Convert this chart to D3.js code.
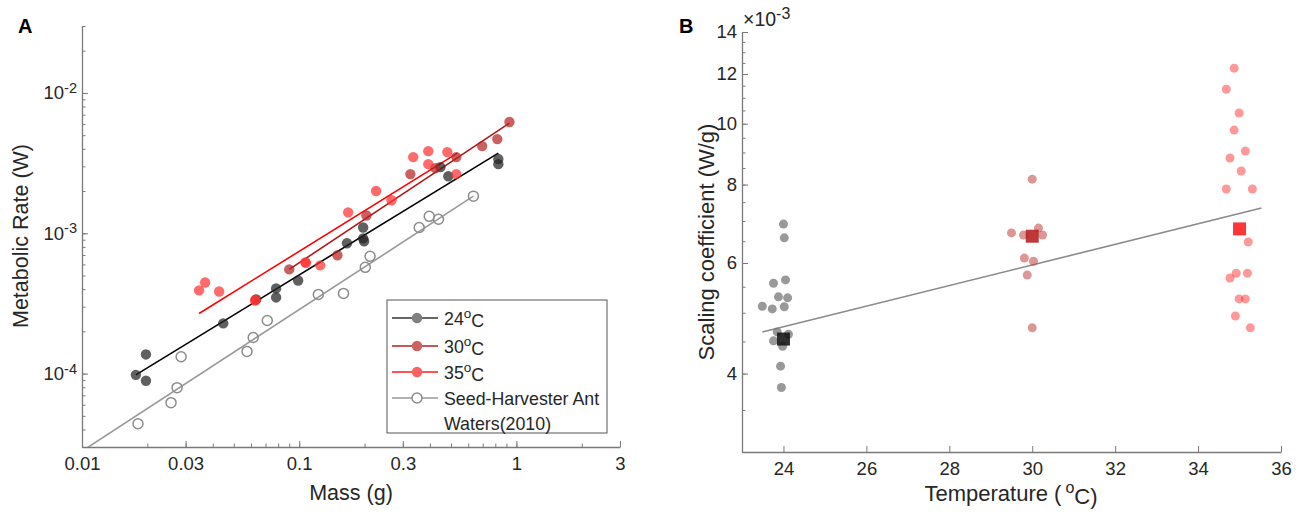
<!DOCTYPE html>
<html><head><meta charset="utf-8">
<script src="https://cdn.jsdelivr.net/npm/d3@7/dist/d3.min.js"></script>
<style>
body{margin:0;background:#fff;}
svg{font-family:"Liberation Sans",Arial,sans-serif;}
</style></head>
<body><svg id="c" width="1298" height="512"></svg>
<script>
// ---------- Panel A data ----------
const massTicks = [0.01, 0.03, 0.1, 0.3, 1, 3];
const rateTicks = [1e-4, 1e-3, 1e-2];
const rateTickExp = ["-4", "-3", "-2"];

const mass24 = [0.0177,0.0197,0.0197,0.0447,0.0634,0.0783,0.0783,0.0989,0.166,0.197,0.197,0.199,0.447,0.486,0.826,0.826];
const rate24 = [9.8e-5,1.37e-4,8.9e-5,2.28e-4,3.38e-4,4.05e-4,3.49e-4,4.61e-4,8.49e-4,1.10e-3,9.2e-4,8.77e-4,2.96e-3,2.55e-3,3.38e-3,3.11e-3];
const fit24Mass = [0.0177, 0.826], fit24Rate = [9.8e-5, 3.73e-3];

const mass30 = [0.090,0.150,0.204,0.325,0.424,0.529,0.696,0.817,0.929];
const rate30 = [5.53e-4,6.97e-4,1.34e-3,2.64e-3,2.91e-3,3.49e-3,4.18e-3,4.69e-3,6.21e-3];
const fit30Mass = [0.090, 0.929], fit30Rate = [5.53e-4, 6.1e-3];

const mass35 = [0.0346,0.0369,0.0428,0.0626,0.0630,0.1067,0.1075,0.125,0.168,0.226,0.266,0.335,0.393,0.393,0.481,0.529];
const rate35 = [3.92e-4,4.46e-4,3.85e-4,3.32e-4,3.36e-4,6.21e-4,6.15e-4,5.91e-4,1.41e-3,2.0e-3,1.72e-3,3.49e-3,3.85e-3,3.11e-3,3.79e-3,2.64e-3];
const fit35Mass = [0.0346, 0.535], fit35Rate = [2.68e-4, 3.73e-3];

const massW = [0.0181,0.0257,0.0274,0.0286,0.0575,0.0614,0.0713,0.1225,0.160,0.2015,0.212,0.357,0.397,0.438,0.634];
const rateW = [4.39e-5,6.21e-5,7.94e-5,1.32e-4,1.44e-4,1.81e-4,2.39e-4,3.67e-4,3.73e-4,5.72e-4,6.85e-4,1.10e-3,1.32e-3,1.26e-3,1.84e-3];
const fitWMass = [0.01055, 0.634], fitWRate = [2.96e-5, 1.84e-3];

const legendLabels = [["24","o","C"],["30","o","C"],["35","o","C"],["Seed-Harvester Ant"],["Waters(2010)"]];

// ---------- Panel B data (coefficients in units of 1e-3 W/g) ----------
const tempTicks = [24, 26, 28, 30, 32, 34, 36];
const coefTicks = [4, 6, 8, 10, 12, 14];
const temp24 = [24.0,24.02,23.76,24.05,23.88,24.1,23.49,23.73,24.02,23.85,24.12,23.76,23.98,23.93,23.95];
const coef24 = [6.92,6.58,5.57,5.64,5.30,5.28,5.12,5.07,5.11,4.66,4.62,4.51,4.42,4.11,3.80];
const temp30 = [30.0,29.5,29.79,30.15,30.25,29.81,30.03,29.88,30.0];
const coef30 = [8.16,6.70,6.65,6.82,6.65,6.11,6.04,5.74,4.73];
const temp35 = [34.87,34.68,34.99,34.87,35.14,34.77,35.04,34.68,35.31,35.21,34.92,35.19,34.77,34.99,35.14,34.90,35.26];
const coef35 = [12.26,11.35,10.40,9.77,9.05,8.82,8.41,7.87,7.87,6.48,5.78,5.78,5.68,5.26,5.26,4.94,4.73];
const meanTemp = [24, 30, 35];
const meanCoef = [4.54, 6.62, 6.80];
const fitTemp = [23.49, 35.53], fitCoef = [4.66, 7.34];

// ---------- drawing ----------
const svg = d3.select("#c");
const axisCol = "#7a7a7a", textCol = "#262626";
const zip = (a, b) => a.map((v, i) => [v, b[i]]);

function styleAxis(g) {
  g.select(".domain").attr("stroke", axisCol).attr("stroke-width", 1.3);
  g.selectAll(".tick line").attr("stroke", axisCol).attr("stroke-width", 1);
  g.selectAll(".tick text").attr("fill", textCol).style("font-size", "18.5px");
}

// ===== Panel A =====
const xA = d3.scaleLog().domain([0.01, 3]).range([82, 620]);
const yA = d3.scaleLog().domain([3e-5, 3e-2]).range([447, 26]);

const minorX = [];
[0.01, 0.1, 1].forEach(d => { for (let k = 1; k <= 9; k++) { const v = d * k; if (v <= 3.0001) minorX.push(v); } });
const minorY = [];
[1e-5, 1e-4, 1e-3, 1e-2].forEach(d => { for (let k = 1; k <= 9; k++) { const v = d * k; if (v >= 2.9999e-5 && v <= 3.0001e-2) minorY.push(v); } });

const gA = svg.append("g");
gA.append("g").attr("transform", "translate(0,447)")
  .call(d3.axisBottom(xA).tickValues(minorX).tickSizeInner(-3.5).tickSizeOuter(0).tickFormat(""))
  .call(styleAxis);
gA.append("g").attr("transform", "translate(0,447)")
  .call(d3.axisBottom(xA).tickValues(massTicks).tickSizeInner(-6).tickSizeOuter(0).tickPadding(10).tickFormat(d => String(d)))
  .call(styleAxis).call(g => g.select(".domain").remove());
gA.append("g").attr("transform", "translate(82,0)")
  .call(d3.axisLeft(yA).tickValues(minorY).tickSizeInner(-3.5).tickSizeOuter(0).tickFormat(""))
  .call(styleAxis);
const yAx = gA.append("g").attr("transform", "translate(82,0)")
  .call(d3.axisLeft(yA).tickValues(rateTicks).tickSizeInner(-6).tickSizeOuter(0).tickPadding(5).tickFormat(""))
  .call(styleAxis).call(g => g.select(".domain").remove());
yAx.selectAll(".tick").each(function (d, i) {
  const t = d3.select(this).select("text").attr("dy", "0.32em").style("font-size", "18.5px");
  t.append("tspan").text("10");
  t.append("tspan").text(rateTickExp[i]).attr("dy", "-0.45em").style("font-size", "14.5px");
});

svg.append("clipPath").attr("id", "clipA").append("rect").attr("x", 82).attr("y", 26).attr("width", 538).attr("height", 421);

const line = d3.line();
const plotA = gA.append("g").attr("clip-path", "url(#clipA)");
function fitLine(mx, ry, col) {
  plotA.append("path").attr("d", line(zip(mx, ry).map(p => [xA(p[0]), yA(p[1])])))
    .attr("stroke", col).attr("stroke-width", 1.6).attr("fill", "none");
}
fitLine(fitWMass, fitWRate, "#999999");
fitLine(fit24Mass, fit24Rate, "#000000");
fitLine(fit30Mass, fit30Rate, "#b01818");
fitLine(fit35Mass, fit35Rate, "#ff0000");

plotA.selectAll(".w").data(zip(massW, rateW)).join("circle")
  .attr("cx", d => xA(d[0])).attr("cy", d => yA(d[1])).attr("r", 5)
  .attr("fill", "none").attr("stroke", "#8c8c8c").attr("stroke-width", 1.5);
function dots(mx, ry, col) {
  plotA.append("g").selectAll("circle").data(zip(mx, ry)).join("circle")
    .attr("cx", d => xA(d[0])).attr("cy", d => yA(d[1])).attr("r", 5.2)
    .attr("fill", col).attr("fill-opacity", 0.72);
}
dots(mass24, rate24, "#222222");
dots(mass30, rate30, "#b62323");
dots(mass35, rate35, "#ff3030");

// legend
const lg = gA.append("g");
lg.append("rect").attr("x", 387).attr("y", 300).attr("width", 220).attr("height", 133)
  .attr("fill", "#fff").attr("stroke", "#555").attr("stroke-width", 1);
const legLine = ["#333333", "#b02020", "#ff1a1a", "#999999"];
const legMark = ["#808080", "#cc6262", "#ff6060", null];
const legY = [318, 346, 372, 398, 423];
legendLabels.forEach((lab, i) => {
  const y = legY[i];
  if (i < 4) {
    lg.append("line").attr("x1", 392).attr("x2", 438).attr("y1", y).attr("y2", y)
      .attr("stroke", legLine[i]).attr("stroke-width", 1.6);
    if (legMark[i]) lg.append("circle").attr("cx", 417).attr("cy", y).attr("r", 5.2).attr("fill", legMark[i]);
    else lg.append("circle").attr("cx", 417).attr("cy", y).attr("r", 5).attr("fill", "#fff").attr("stroke", "#8c8c8c").attr("stroke-width", 1.5);
  }
  const t = lg.append("text").attr("x", 444).attr("y", y).attr("dy", "0.38em").attr("fill", textCol).style("font-size", "17.8px");
  if (lab.length === 3) {
    t.append("tspan").text(lab[0]);
    t.append("tspan").text(lab[1]).attr("dy", "-0.5em").style("font-size", "13.5px");
    t.append("tspan").text(lab[2]).attr("dy", "0.5em");
  } else t.text(lab[0]);
});

// titles A
svg.append("text").attr("x", 18).attr("y", 33).text("A").style("font-size", "20px").style("font-weight", "bold").attr("fill", "#000");
svg.append("text").attr("transform", "translate(28,236) rotate(-90)").attr("text-anchor", "middle")
  .text("Metabolic Rate (W)").style("font-size", "21.5px").attr("fill", textCol);
svg.append("text").attr("x", 351).attr("y", 500).attr("text-anchor", "middle")
  .text("Mass (g)").style("font-size", "21.5px").attr("fill", textCol);

// ===== Panel B =====
const xB = d3.scaleLinear().domain([23, 36]).range([742, 1281]);
const yB = d3.scaleLog().domain([3, 14]).range([452, 32]);
const minorB = d3.range(3, 14.01, 0.5);

const gB = svg.append("g");
gB.append("g").attr("transform", "translate(0,452)")
  .call(d3.axisBottom(xB).tickValues(tempTicks).tickSizeInner(-6).tickSizeOuter(0).tickPadding(10).tickFormat(d3.format("d")))
  .call(styleAxis);
gB.append("g").attr("transform", "translate(742,0)")
  .call(d3.axisLeft(yB).tickValues(minorB).tickSizeInner(-3.5).tickSizeOuter(0).tickFormat(""))
  .call(styleAxis);
gB.append("g").attr("transform", "translate(742,0)")
  .call(d3.axisLeft(yB).tickValues(coefTicks).tickSizeInner(-6).tickSizeOuter(0).tickPadding(5).tickFormat(d3.format("d")))
  .call(styleAxis).call(g => g.select(".domain").remove());

const mult = svg.append("text").attr("x", 743).attr("y", 26).attr("fill", textCol).style("font-size", "19.5px");
mult.append("tspan").text("\u00d710");
mult.append("tspan").text("-3").attr("dy", "-0.45em").style("font-size", "16px");

gB.append("path").attr("d", line(zip(fitTemp, fitCoef).map(p => [xB(p[0]), yB(p[1])])))
  .attr("stroke", "#8a8a8a").attr("stroke-width", 1.6).attr("fill", "none");

function dotsB(tx, cy, col, op) {
  gB.append("g").selectAll("circle").data(zip(tx, cy)).join("circle")
    .attr("cx", d => xB(d[0])).attr("cy", d => yB(d[1])).attr("r", 4.5)
    .attr("fill", col).attr("fill-opacity", op);
}
dotsB(temp24, coef24, "#777777", 0.75);
dotsB(temp30, coef30, "#c04040", 0.55);
dotsB(temp35, coef35, "#ff3333", 0.5);
const sqCol = ["#111111", "#b31e1e", "#ff1a1a"];
gB.append("g").selectAll("rect").data(zip(meanTemp, meanCoef)).join("rect")
  .attr("x", d => xB(d[0]) - 6.5).attr("y", d => yB(d[1]) - 6.5).attr("width", 13).attr("height", 13)
  .attr("fill", (d, i) => sqCol[i]).attr("fill-opacity", 0.88);

svg.append("text").attr("x", 679).attr("y", 33).text("B").style("font-size", "20px").style("font-weight", "bold").attr("fill", "#000");
svg.append("text").attr("transform", "translate(714,242) rotate(-90)").attr("text-anchor", "middle")
  .text("Scaling coefficient (W/g)").style("font-size", "22px").attr("fill", textCol);
const tl = svg.append("text").attr("x", 1011).attr("y", 501).attr("text-anchor", "middle").style("font-size", "22px").attr("fill", textCol);
tl.append("tspan").text("Temperature (");
tl.append("tspan").text("o").attr("dx", "4").attr("dy", "-0.5em").style("font-size", "16px");
tl.append("tspan").text("C)").attr("dy", "0.5em");
</script></body></html>
